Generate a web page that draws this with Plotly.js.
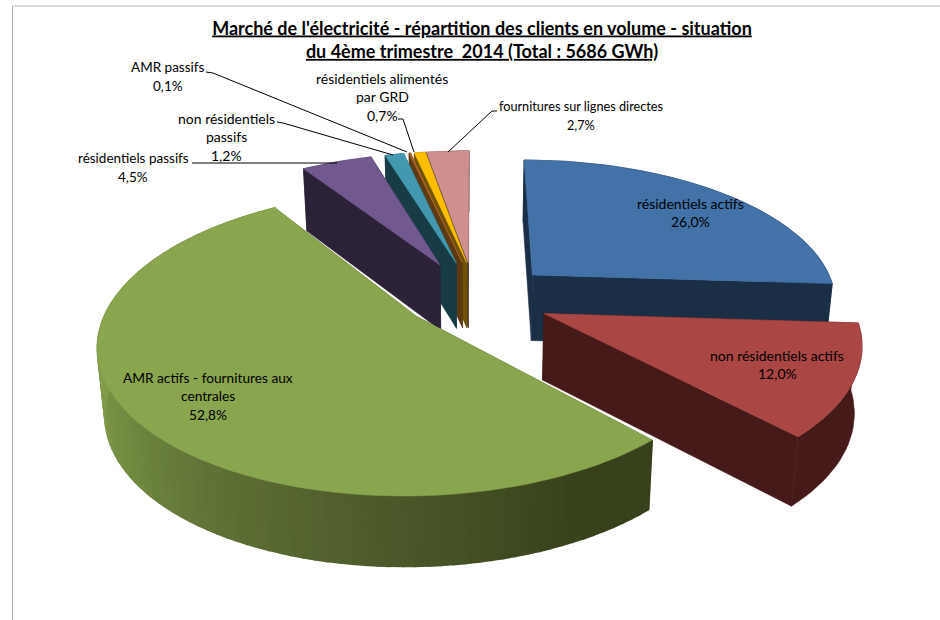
<!DOCTYPE html>
<html><head><meta charset="utf-8">
<script src="https://cdn.plot.ly/plotly-3.0.1.min.js"></script>
<style>html,body{margin:0;padding:0;background:#fff}</style></head>
<body><div id="chart" style="width:940px;height:620px"></div>
<script>
const categories = ["résidentiels actifs","non résidentiels actifs","AMR actifs - fournitures aux centrales","résidentiels passifs","non résidentiels passifs","AMR passifs","résidentiels alimentés par GRD","fournitures sur lignes directes"];
const values = [26.0,12.0,52.8,4.5,1.2,0.1,0.7,2.7];
const topColors = ["#4272A8","#AA4643","#89A54E","#71588F","#4198AF","#B5682C","#FFBF00","#CF8F8E"];
const wallColors = ["#1A2E45","#451A18","#4c5a2a","#2B2238","#173C46","#5e3a12","#6E5400","#53393A"];
const offsetX = [0.197,0.225,-0.186,-0.116,-0.061,-0.04,-0.025,-0.020];
const offsetY = [0.145,-0.129,-0.146,0.220,0.235,0.24,0.24,0.24];
const drawOrder = [7,6,5,4,3,0,2,1];
const labelLines = [
 {i:0,lines:["résidentiels actifs"],x:690,y:203,size:14},
 {i:1,lines:["non résidentiels actifs"],x:777,y:355,size:14},
 {i:2,lines:["AMR actifs - fournitures aux","centrales"],x:208,y:377,size:13.7},
 {i:3,lines:["résidentiels passifs"],x:133,y:158,size:13.5},
 {i:4,lines:["non résidentiels","passifs"],x:226,y:118,size:14},
 {i:5,lines:["AMR passifs"],x:168,y:67,size:13.5},
 {i:6,lines:["résidentiels alimentés","par GRD"],x:382,y:78,size:14},
 {i:7,lines:["fournitures sur lignes directes"],x:581,y:106,size:12.7}
];
const leaders = [
 [[192,337],[163,163]],
 [[277,283,393],[122,123,155]],
 [[206,213,407],[72,73,152]],
 [[398,403,414],[119,119,152]],
 [[497,492,448],[111,111,152]]
];
const CX=474, CY=295, RX=304, RY=141, P=0.171, H=66, BS=0.98, LH=18.7;
function proj(X,Y,bottom){
  const w=1/(1+P*Y); let x=X*RX*w, y=-Y*RY*w;
  if(bottom){x*=BS; y=y*BS+H/(1+0.1*Y);}
  return [CX+x,CY+y];
}
function poly(pts,color,lw){
  return {type:'scatter',mode:'lines',x:pts.map(p=>p[0]).concat(pts[0][0]),y:pts.map(p=>p[1]).concat(pts[0][1]),
    fill:'toself',fillcolor:color,line:{color:color,width:lw===undefined?0.6:lw},hoverinfo:'skip',showlegend:false};
}
function lerpColor(stops,t){
  for(let k=0;k<stops.length-1;k++){
    if(t<=stops[k+1][0]){
      const a=stops[k],b=stops[k+1],f=(t-a[0])/(b[0]-a[0]);
      return 'rgb('+[0,1,2].map(c=>Math.round(a[1][c]+(b[1][c]-a[1][c])*f)).join(',')+')';
    }
  }
  return 'rgb('+stops[stops.length-1][1].join(',')+')';
}
const greenStops=[[0,[55,65,28]],[0.12,[55,65,27]],[0.4,[78,92,43]],[0.62,[96,114,54]],[0.8,[112,138,64]],[1,[130,155,75]]];
const traces=[];
const total=values.reduce((a,b)=>a+b,0);
let acc=0; const spans=values.map(v=>{const s=acc;acc+=v;return [s/total*2*Math.PI,acc/total*2*Math.PI];});
drawOrder.forEach(i=>{
  const [a0,a1]=spans[i], ex=offsetX[i], ey=offsetY[i];
  const pt=(a,b)=>proj(ex+Math.sin(a),ey+Math.cos(a),b);
  const tip=b=>proj(ex,ey,b);
  traces.push(poly([tip(false),pt(a0,false),pt(a0,true),tip(true)],wallColors[i]));
  traces.push(poly([tip(false),pt(a1,false),pt(a1,true),tip(true)],wallColors[i]));
  const n=Math.max(2,Math.ceil((a1-a0)/(Math.PI/90)));
  const arcTop=[],arcBot=[];
  for(let k=0;k<=n;k++){const a=a0+(a1-a0)*k/n;arcTop.push(pt(a,false));arcBot.push(pt(a,true));}
  if(i===2){
    for(let k=0;k<n;k++){
      const t=Math.min(1,(k+0.5)/n*1.55);
      traces.push(poly([arcTop[k],arcTop[k+1],arcBot[k+1],arcBot[k]],lerpColor(greenStops,t),1.6));
    }
  } else {
    traces.push(poly(arcTop.concat(arcBot.slice().reverse()),wallColors[i]));
  }
  traces.push(poly([tip(false)].concat(arcTop),topColors[i]));
});
leaders.forEach(l=>traces.push({type:'scatter',mode:'lines',x:l[0],y:l[1],line:{color:'#000',width:1},hoverinfo:'skip',showlegend:false}));
const pct=v=>v.toFixed(1).replace('.',',')+'%';
const annotations=[];
labelLines.forEach(l=>{
  l.lines.concat(pct(values[l.i])).forEach((t,k)=>annotations.push({x:l.x,y:l.y+k*LH,text:t,showarrow:false,xref:'x',yref:'y',xanchor:'center',yanchor:'middle',font:{family:'Lato, sans-serif',size:l.size,color:'#000'}}));
});
const layout={width:940,height:620,margin:{l:0,r:0,t:0,b:0},paper_bgcolor:'#fff',plot_bgcolor:'#fff',showlegend:false,
 title:{text:"<b><u>Marché de l'électricité - répartition des clients en volume - situation</u></b><br><b><u>du 4ème trimestre  2014 (Total : 5686 GWh)</u></b>",x:482/940,xanchor:'center',y:1-34.5/620,yanchor:'middle',font:{family:'Lato, sans-serif',size:18,color:'#000'}},
 xaxis:{range:[0,940],visible:false,fixedrange:true},yaxis:{range:[620,0],visible:false,fixedrange:true},
 shapes:[
  {type:'line',xref:'x',yref:'y',x0:12.5,x1:12.5,y0:6,y1:620,line:{color:'#aaa',width:1}},
  {type:'line',xref:'x',yref:'y',x0:12.5,x1:940,y0:6,y1:6,line:{color:'#bbb',width:1}}],
 annotations:annotations};
Plotly.newPlot('chart',traces,layout,{displayModeBar:false,staticPlot:true});
</script></body></html>
